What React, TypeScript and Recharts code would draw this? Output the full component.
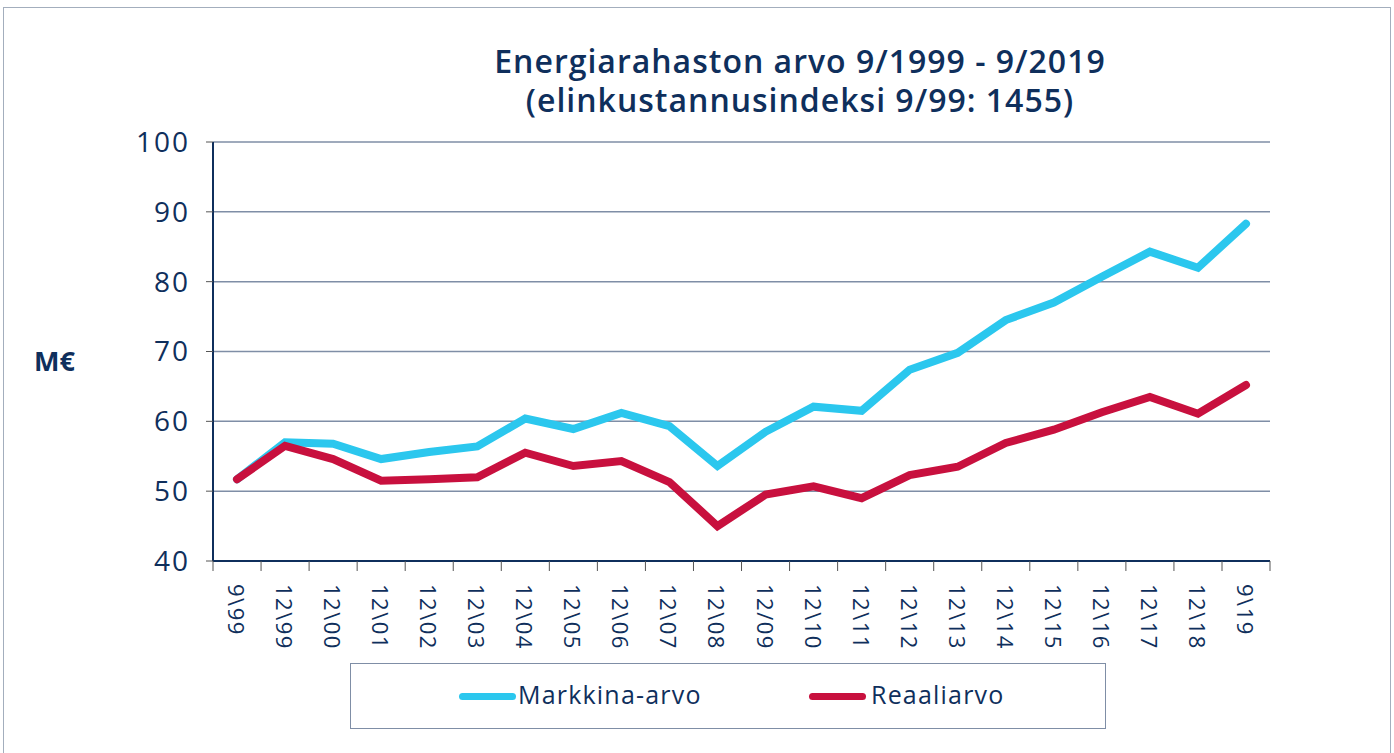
import React from 'react';
import {
    LineChart,
    Line,
    XAxis,
    YAxis,
    CartesianGrid,
} from 'recharts';

const periods = [
    '9\\99', '12\\99', '12\\00', '12\\01', '12\\02', '12\\03', '12\\04', '12\\05',
    '12\\06', '12\\07', '12\\08', '12/09', '12\\10', '12\\11', '12\\12', '12\\13',
    '12\\14', '12\\15', '12\\16', '12\\17', '12\\18', '9\\19',
];
const markkinaArvo = [
    51.7, 57.0, 56.8, 54.6, 55.6, 56.4, 60.4, 58.9, 61.2, 59.3, 53.6,
    58.5, 62.1, 61.5, 67.4, 69.8, 74.5, 77.0, 80.7, 84.3, 82.0, 88.3,
];
const reaaliarvo = [
    51.7, 56.5, 54.6, 51.5, 51.7, 52.0, 55.5, 53.6, 54.3, 51.3, 45.0,
    49.5, 50.7, 49.0, 52.3, 53.5, 56.9, 58.8, 61.3, 63.5, 61.1, 65.2,
];
const yTicks = [40, 50, 60, 70, 80, 90, 100];

const data = periods.map((p, i) => ({
    kausi: p,
    markkina: markkinaArvo[i],
    reaali: reaaliarvo[i],
}));

const NAVY = '#0f2f5c';
const CYAN = '#2bc7ee';
const RED = '#c8103e';
const FONT = '"Open Sans", sans-serif';

const XTick = (props: any) => {
    const { x, y, payload, index } = props;
    const half = 24;
    const last = index === periods.length - 1;
    return (
        <g>
            <line x1={x - half} y1={y - 8} x2={x - half} y2={y + 2} stroke="#555" />
            {last && <line x1={x + half} y1={y - 8} x2={x + half} y2={y + 2} stroke="#555" />}
            <text
                x={x}
                y={y + 15}
                transform={`rotate(90, ${x}, ${y + 15})`}
                textAnchor="start"
                dominantBaseline="central"
                fill={NAVY}
                fontSize={22}
                letterSpacing={1.5}
                fontFamily={FONT}
            >
                {payload.value}
            </text>
        </g>
    );
};

const App: React.FC = () => {
    return (
        <div style={{ position: 'absolute', left: 0, top: 0, width: 1394, height: 753, background: '#fff', overflow: 'hidden', fontFamily: FONT }}>
            <div style={{ position: 'absolute', left: 3, top: 7, width: 1386, height: 800, border: '1px solid #a3aebd' }} />
            <div
                style={{
                    position: 'absolute', left: 400, width: 800, top: 41, textAlign: 'center',
                    color: NAVY, fontSize: 32, fontWeight: 600, lineHeight: '39px', letterSpacing: 1.0,
                }}
            >
                Energiarahaston arvo 9/1999 - 9/2019
                <br />
                (elinkustannusindeksi 9/99: 1455)
            </div>
            <div style={{ position: 'absolute', left: 34, top: 342, color: NAVY, fontSize: 27, fontWeight: 700 }}>
                M€
            </div>

            <div style={{ position: 'absolute', left: 0, top: 0 }}>
                <LineChart
                    width={1394}
                    height={753}
                    data={data}
                    margin={{ top: 142, right: 124, left: 133, bottom: 112 }}
                >
                    <CartesianGrid vertical={false} stroke="#7f8ea6" strokeWidth={1.5} />
                    <XAxis
                        dataKey="kausi"
                        padding={{ left: 24, right: 24 }}
                        height={80}
                        interval={0}
                        tickLine={false}
                        axisLine={{ stroke: NAVY, strokeWidth: 2 }}
                        tick={<XTick />}
                    />
                    <XAxis
                        xAxisId="top"
                        dataKey="kausi"
                        orientation="top"
                        height={0}
                        tick={false}
                        tickLine={false}
                        axisLine={{ stroke: NAVY, strokeWidth: 2 }}
                    />
                    <YAxis
                        domain={[40, 100]}
                        ticks={yTicks}
                        width={80}
                        tickSize={7}
                        tickMargin={16}
                        axisLine={{ stroke: NAVY, strokeWidth: 2 }}
                        tickLine={{ stroke: '#555' }}
                        tick={{ fill: NAVY, fontSize: 28, fontFamily: FONT, letterSpacing: 2 }}
                    />
                    <YAxis
                        yAxisId="right"
                        orientation="right"
                        domain={[40, 100]}
                        width={0}
                        tick={false}
                        tickLine={false}
                        axisLine={{ stroke: NAVY, strokeWidth: 2 }}
                    />
                    <Line
                        type="linear"
                        dataKey="markkina"
                        stroke={CYAN}
                        strokeWidth={8}
                        dot={false}
                        strokeLinecap="round"
                        isAnimationActive={false}
                    />
                    <Line
                        type="linear"
                        dataKey="reaali"
                        stroke={RED}
                        strokeWidth={8}
                        dot={false}
                        strokeLinecap="round"
                        isAnimationActive={false}
                    />
                </LineChart>
            </div>

            <div
                style={{
                    position: 'absolute', left: 350, top: 663, width: 756, height: 66,
                    border: '1px solid #7f8ea6', boxSizing: 'border-box',
                }}
            >
                <div style={{ position: 'absolute', left: 108, top: 29, width: 57, height: 7, borderRadius: 4, background: CYAN }} />
                <div style={{ position: 'absolute', left: 167, top: 14, fontSize: 25, letterSpacing: 1.2, color: NAVY, lineHeight: '32px' }}>
                    Markkina-arvo
                </div>
                <div style={{ position: 'absolute', left: 458, top: 29, width: 57, height: 7, borderRadius: 4, background: RED }} />
                <div style={{ position: 'absolute', left: 520, top: 14, fontSize: 25, letterSpacing: 1.2, color: NAVY, lineHeight: '32px' }}>
                    Reaaliarvo
                </div>
            </div>
        </div>
    );
};

export default App;
